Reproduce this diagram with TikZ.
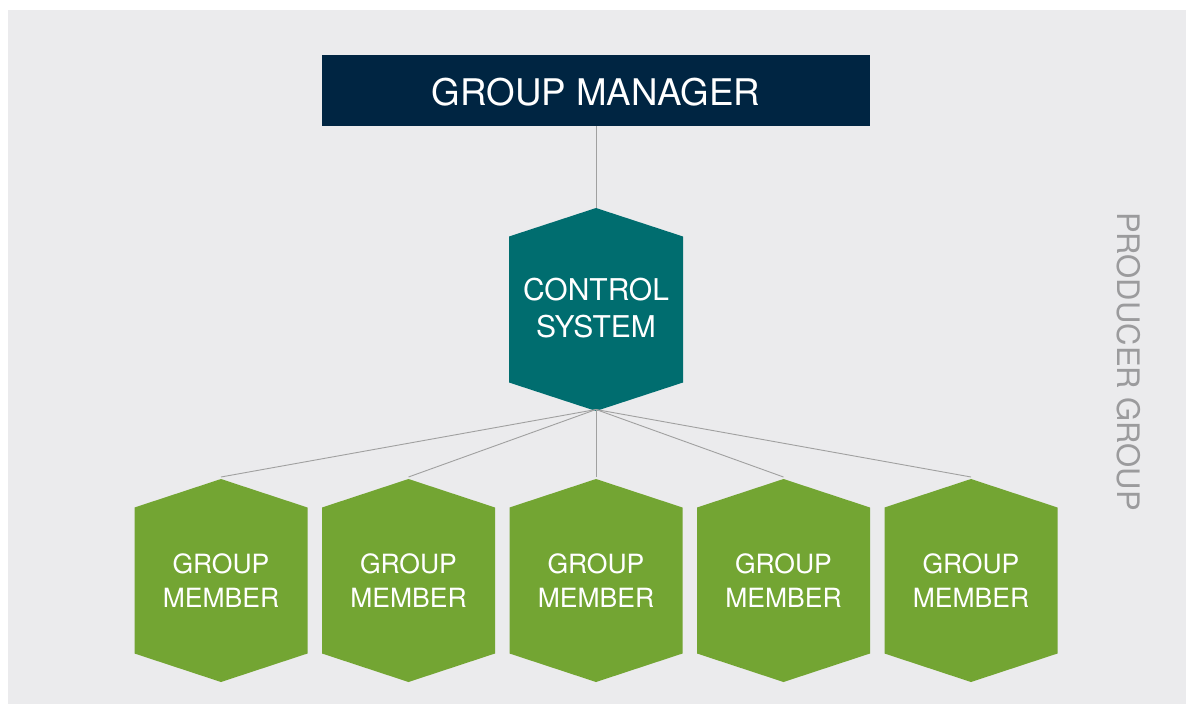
\documentclass[tikz,border=0pt]{standalone}
\usepackage{fontspec}
\setmainfont{TeX Gyre Heros}
\definecolor{bg}{HTML}{EBEBED}
\definecolor{navy}{HTML}{002542}
\definecolor{teal}{HTML}{006D6F}
\definecolor{leaf}{HTML}{73A533}
\definecolor{wire}{HTML}{A0A0A0}
\definecolor{label}{HTML}{9B9B9D}
\tikzset{
  conn/.style={draw=wire, line width=0.9pt},
  hextext/.style={text=white, align=center, inner sep=0pt},
}
\newcommand{\hexpath}[5]{% color, cx, cy, halfwidth, name
  \fill[#1] (#2,#3-101.5) -- (#2+#4,#3-73) -- (#2+#4,#3+73) -- (#2,#3+101.5)
            -- (#2-#4,#3+73) -- (#2-#4,#3-73) -- cycle;
  \coordinate (#5-top) at (#2,#3-101.5);
  \coordinate (#5-bot) at (#2,#3+101.5);
}
\begin{document}
\begin{tikzpicture}[x=1pt,y=-1pt]
\useasboundingbox (0,0) rectangle (1186,704);
\fill[bg] (8,10) rectangle (1186,704);
% manager
\node[fill=navy, minimum width=548pt, minimum height=71pt, inner sep=0pt] (mgr) at (596,90.5) {};
\node[text=white, inner sep=0pt, font=\fontsize{36.7}{40}\selectfont] (mgrtext) at (596,92.5) {GROUP MANAGER};
% control system
\hexpath{teal}{596}{309.5}{87}{cs}
\node[hextext, font=\fontsize{30}{37}\selectfont] (cstext) at (596,308) {CONTROL\\SYSTEM};
% members
\foreach \i/\x in {1/221,2/408.5,3/596,4/783.5,5/971}{
  \hexpath{leaf}{\x}{580.5}{86.5}{m\i}
  \node[hextext, font=\fontsize{26.5}{34}\selectfont] (mt\i) at (\x,581) {GROUP\\MEMBER};
  \coordinate (e\i) at ([yshift=2pt]m\i-top);
}
% connectors
\draw[conn] (mgr.south) -- (cs-top);
\foreach \i in {1,...,5}{
  \draw[conn] ([yshift=1.5pt]cs-bot) -- (e\i);
}
% side label
\node[rotate=-90, text=label, font=\fontsize{31}{36}\selectfont, inner sep=0pt] (pg) at (1129,361.5) {PRODUCER GROUP};
\end{tikzpicture}
\end{document}
